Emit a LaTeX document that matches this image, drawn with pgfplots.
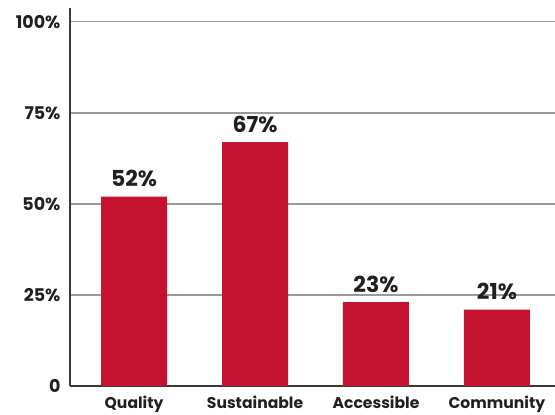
\documentclass[border=0pt]{standalone}
\usepackage{pgfplots}
\pgfplotsset{compat=1.18}
\usepackage{fontspec}
\setmainfont{Poppins}
\definecolor{barred}{HTML}{C41230}
\definecolor{txt}{HTML}{231F20}
\definecolor{gridc}{HTML}{9A9A9A}
\definecolor{axc}{HTML}{3A3A3A}
\begin{document}
\begin{tikzpicture}[x=1pt,y=1pt]
\useasboundingbox (-70,-29) rectangle (485,386);
\begin{axis}[
  at={(0pt,0pt)}, anchor=south west,
  scale only axis, width=485pt, height=378pt,
  xmin=-0.53, xmax=3.48, ymin=0, ymax=103.8,
  ybar, bar width=66pt,
  axis x line*=bottom, axis y line*=left,
  axis line style={axc, line width=1.6pt, -},
  ytick={0,25,50,75,100},
  yticklabels={0,25\%,50\%,75\%,100\%},
  xtick={0,1,2,3},
  xticklabels={Quality,Sustainable,Accessible,Community},
  major tick length=0pt,
  ymajorgrids, grid style={gridc, line width=1.3pt},
  yticklabel style={font=\bfseries\fontsize{17.5}{17.5}\selectfont, text=txt, anchor=east, xshift=-6pt},
  xticklabel style={font=\bfseries\fontsize{15.6}{15.6}\selectfont, text=txt, anchor=base, yshift=-23pt},
  nodes near coords={\pgfmathprintnumber[assume math mode=true]{\pgfplotspointmeta}\%},
  every node near coord/.append style={font=\bfseries\fontsize{22}{22}\selectfont, text=txt, anchor=base, yshift=10pt},
  /pgf/number format/assume math mode=true,
]
\addplot[fill=barred, draw=none] coordinates {(0,52) (1,67) (2,23) (3,21)};
\end{axis}
\end{tikzpicture}
\end{document}
